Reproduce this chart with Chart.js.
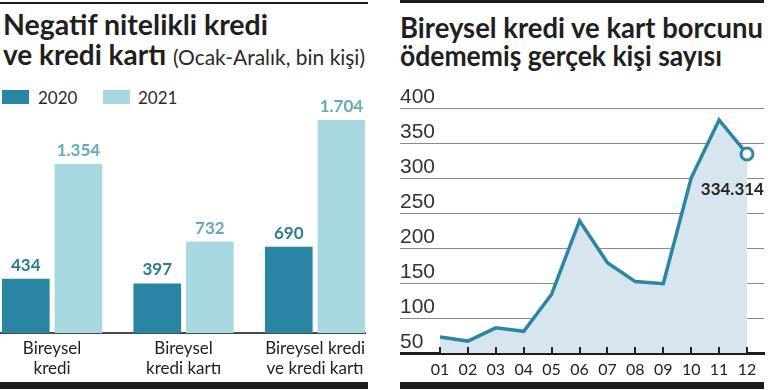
<!DOCTYPE html>
<html><head><meta charset="utf-8">
<script src="https://cdn.jsdelivr.net/npm/chart.js@4.4.1/dist/chart.umd.min.js"></script>
<style>
html,body{margin:0;padding:0;background:#fff;}
body{width:768px;height:390px;position:relative;overflow:hidden;font-family:Lato,sans-serif;}
.rule{position:absolute;background:#1c1c1c;}
.title{position:absolute;white-space:nowrap;font-family:Lato,sans-serif;font-weight:700;font-size:28px;line-height:28px;color:#1f1f1f;transform-origin:0 0;}
.sub{font-weight:400;font-size:21px;color:#2a2a2a;}
.box{position:absolute;top:90px;width:27px;height:14px;}
.legt{position:absolute;top:89px;font-family:Lato,sans-serif;font-size:17px;line-height:17px;color:#2a2a2a;}
canvas{position:absolute;}
</style></head>
<body>
<div class="rule" style="left:0;top:2px;width:368px;height:2px"></div>
<div class="rule" style="left:400px;top:0;width:364px;height:3px"></div>
<div class="title" style="left:3px;top:10px" data-w="265">Negatif nitelikli kredi</div>
<div class="title" style="left:3px;top:40px" data-w="362">ve kredi kartı <span class="sub">(Ocak-Aralık, bin kişi)</span></div>
<div class="title" style="left:400px;top:13px" data-w="363">Bireysel kredi ve kart borcunu</div>
<div class="title" style="left:400px;top:41px" data-w="322">ödememiş gerçek kişi sayısı</div>
<div class="box" id="b0" style="left:2px"></div><div class="legt" id="l0" style="left:38px"></div>
<div class="box" id="b1" style="left:103px"></div><div class="legt" id="l1" style="left:138px"></div>
<canvas id="c1" width="370" height="300" style="left:0;top:90px"></canvas>
<canvas id="c2" width="368" height="310" style="left:400px;top:80px"></canvas>
<div class="rule" style="left:0;top:382px;width:368px;height:7px"></div>
<div class="rule" style="left:400px;top:382px;width:364px;height:7px"></div>
<script>
// ---- data: left chart ----
const categories = [['Bireysel','kredi'],['Bireysel','kredi kartı'],['Bireysel kredi','ve kredi kartı']];
const years = ['2020','2021'];
const values2020 = [434, 397, 690];
const values2021 = [1354, 732, 1704];
// ---- data: right chart (bin kişi) ----
const months = ['01','02','03','04','05','06','07','08','09','10','11','12'];
const persons = [73, 67, 86, 81, 134, 239, 179, 152, 149, 300, 383, 334.314];
const yTickStep = 50;

const C2020 = '#2a84a4', C2021 = '#a8d9e1';
const LINE = '#2b87a1', FILL = '#d7e5ee';

function fmtTR(n){ return Math.round(n).toString().replace(/\B(?=(\d{3})+(?!\d))/g,'.'); }

// legend (HTML)
document.getElementById('b0').style.background = C2020;
document.getElementById('b1').style.background = C2021;
document.getElementById('l0').textContent = years[0];
document.getElementById('l1').textContent = years[1];

// fit titles
document.querySelectorAll('[data-w]').forEach(el=>{
  const w = el.getBoundingClientRect().width;
  el.style.transform = 'scaleX(' + (parseFloat(el.dataset.w)/w) + ')';
});

// place chart area exactly (canvas coordinates)
function placeArea(chart, top, bottom, left, right){
  for (let k=0;k<3;k++){
    const a = chart.chartArea, p = chart.options.layout.padding;
    p.top += top - a.top; p.bottom += a.bottom - bottom;
    p.left += left - a.left; p.right += a.right - right;
    chart.update();
  }
}

const valueLabels = {
  id:'valueLabels',
  afterDatasetsDraw(chart){
    const ctx = chart.ctx;
    chart.data.datasets.forEach((ds,di)=>{
      const meta = chart.getDatasetMeta(di);
      meta.data.forEach((bar,i)=>{
        ctx.save();
        ctx.font = 'bold 17px Lato';
        ctx.fillStyle = ds.labelColor;
        ctx.textAlign = 'center';
        ctx.textBaseline = 'alphabetic';
        ctx.fillText(fmtTR(ds.data[i].y), bar.x, bar.y - 8);
        ctx.restore();
      });
    });
  }
};

const ch1 = new Chart(document.getElementById('c1'), {
  type:'bar',
  data:{ datasets:[
    {label:years[0], data: values2020.map((v,i)=>({x:i,y:v})), backgroundColor:C2020, labelColor:'#2b7d98', categoryPercentage:0.8, barPercentage:0.906},
    {label:years[1], data: values2021.map((v,i)=>({x:i,y:v})), backgroundColor:C2021, labelColor:'#63abba', categoryPercentage:0.8, barPercentage:0.906}
  ]},
  options:{
    responsive:false, animation:false,
    layout:{autoPadding:false, padding:{top:30,right:2,bottom:4,left:0}},
    plugins:{legend:{display:false}, tooltip:{enabled:false}},
    scales:{
      x:{type:'linear', offset:false, min:-0.396, max:2.381,
         afterBuildTicks: s=>{ s.ticks = categories.map((c,i)=>({value:i})); },
         grid:{display:true, offset:false, drawOnChartArea:false, drawTicks:false},
         border:{display:true, color:'#4a4a4a', width:2},
         ticks:{font:{family:'Lato', size:17, lineHeight:1.2}, color:'#222', padding:5, maxRotation:0, autoSkip:false,
                callback:(v)=>categories[v]}},
      y:{display:false, min:0, max:1704}
    }
  },
  plugins:[valueLabels]
});
placeArea(ch1, 30, 243, 0, 368);

const endLabel = {
  id:'endLabel',
  afterDatasetsDraw(chart){
    const ctx = chart.ctx;
    // small x tick marks above the baseline, drawn over the area fill
    const xs = chart.scales.x, area = chart.chartArea;
    ctx.save();
    ctx.strokeStyle = '#222'; ctx.lineWidth = 2;
    months.forEach((m,i)=>{
      const x = Math.round(xs.getPixelForValue(i+1));
      ctx.beginPath(); ctx.moveTo(x, area.bottom - 6); ctx.lineTo(x, area.bottom); ctx.stroke();
    });
    ctx.restore();
    const meta = chart.getDatasetMeta(0);
    const i = persons.length-1;
    const p = meta.data[i];
    ctx.save();
    ctx.font = 'bold 17px Lato';
    ctx.fillStyle = '#222';
    ctx.textAlign = 'right';
    ctx.textBaseline = 'middle';
    ctx.fillText(fmtTR(persons[i]*1000), p.x + 17, p.y + 36);
    ctx.restore();
  }
};

const ch2 = new Chart(document.getElementById('c2'), {
  type:'line',
  data:{ datasets:[{
    data: persons.map((v,i)=>({x:i+1, y:v})),
    borderColor:LINE, borderWidth:3.5, tension:0, borderJoinStyle:'miter',
    fill:'start', backgroundColor:FILL,
    pointRadius: c=> c.dataIndex===persons.length-1 ? 6 : 0,
    pointBorderWidth:3, pointBackgroundColor:'#fff', pointBorderColor:LINE,
    clip:false
  }]},
  options:{
    responsive:false, animation:false,
    layout:{autoPadding:false, padding:{top:28,right:4,bottom:11,left:0}},
    plugins:{legend:{display:false}, tooltip:{enabled:false}},
    scales:{
      x:{type:'linear', offset:false, min:-0.433, max:12.61,
         afterBuildTicks: s=>{ s.ticks = months.map((m,i)=>({value:i+1})); },
         grid:{display:true, drawOnChartArea:false, drawTicks:false},
         border:{display:true, color:'#1e1e1e', width:3},
         ticks:{font:{family:'Lato', size:16}, color:'#222', padding:7, maxRotation:0, autoSkip:false,
                callback:(v)=>months[v-1]}},
      y:{min:50, max:400,
         ticks:{stepSize:yTickStep, mirror:true, padding:0, labelOffset:-11,
                font:{family:"'Liberation Sans Narrow', 'Liberation Sans'", size:21}, color:'#333'},
         grid:{color:'#8a8a8a', lineWidth:1, drawTicks:false},
         border:{display:false}}
    }
  },
  plugins:[endLabel]
});
placeArea(ch2, 28, 273, 0, 364);
</script>
</body></html>
